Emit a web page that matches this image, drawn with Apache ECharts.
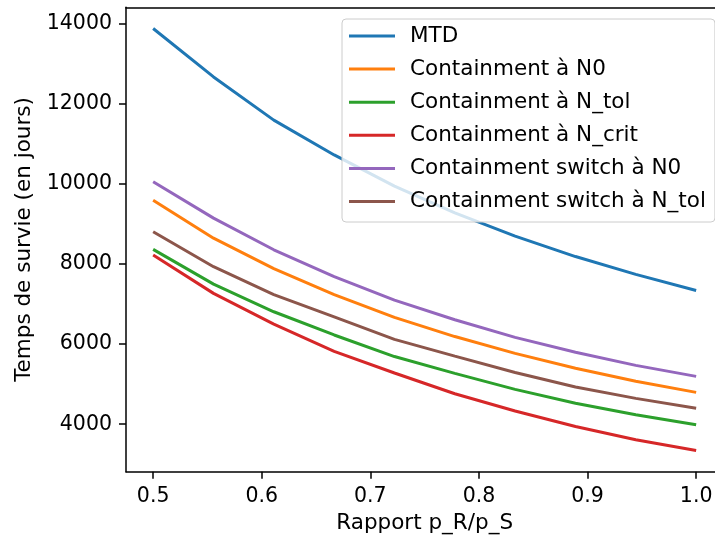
<!DOCTYPE html>
<html>
<head>
<meta charset="utf-8">
<script src="https://cdn.jsdelivr.net/npm/echarts@6/dist/echarts.min.js"></script>
<style>html,body{margin:0;padding:0;background:#fff;overflow:hidden;width:715px;height:540px;}#c{width:715px;height:540px;overflow:hidden;}</style>
</head>
<body>
<div id="c"></div>
<script>
const ratios = [0.5, 0.5556, 0.6111, 0.6667, 0.7222, 0.7778, 0.8333, 0.8889, 0.9444, 1.0];
const seriesNames = ['MTD', 'Containment à N0', 'Containment à N_tol', 'Containment à N_crit', 'Containment switch à N0', 'Containment switch à N_tol'];
const mtd = [13890, 12680, 11600, 10730, 9950, 9280, 8700, 8190, 7745, 7340];
const contN0 = [9600, 8650, 7890, 7240, 6670, 6190, 5770, 5400, 5075, 4795];
const contNtol = [8370, 7500, 6810, 6230, 5690, 5270, 4870, 4525, 4235, 3985];
const contNcrit = [8230, 7270, 6500, 5820, 5280, 4760, 4330, 3940, 3610, 3340];
const switchN0 = [10060, 9150, 8360, 7690, 7100, 6610, 6170, 5800, 5470, 5195];
const switchNtol = [8810, 7937, 7240, 6680, 6120, 5700, 5290, 4930, 4645, 4400];
const xTicks = [0.5, 0.6, 0.7, 0.8, 0.9, 1.0];
const yTicks = [4000, 6000, 8000, 10000, 12000, 14000];

const colors = ['#1f77b4', '#ff7f0e', '#2ca02c', '#d62728', '#9467bd', '#8c564b'];
const allValues = [mtd, contN0, contNtol, contNcrit, switchN0, switchNtol];
const font = 'DejaVu Sans';
const xMin = 0.475, xMax = 1.025;

const chart = echarts.init(document.getElementById('c'), null, {renderer: 'canvas'});
chart.setOption({
  animation: false,
  color: colors,
  grid: {left: 126, top: 7.3, right: -8.3, bottom: 68.3, show: false, containLabel: false, outerBoundsMode: 'none'},
  legend: {
    orient: 'vertical', left: 342, top: 19,
    padding: [6, 9, 9.5, 7],
    itemWidth: 46, itemHeight: 3, itemGap: 11.1,
    icon: 'rect',
    backgroundColor: 'rgba(255,255,255,0.8)',
    borderColor: '#cccccc', borderWidth: 1, borderRadius: 4,
    textStyle: {fontFamily: font, fontSize: 21.5, color: '#000', lineHeight: 21.5, padding: [0, 0, 0, 10]},
    data: seriesNames
  },
  xAxis: [{
    type: 'value', min: xMin, max: xMax,
    name: 'Rapport p_R/p_S', nameLocation: 'middle', nameGap: 41,
    nameTextStyle: {fontFamily: font, fontSize: 21.5, color: '#000'},
    axisLine: {show: true, lineStyle: {color: '#000', width: 1.5}},
    axisTick: {show: true, length: 7, inside: false, lineStyle: {color: '#000', width: 1.5}, customValues: xTicks},
    axisLabel: {fontFamily: font, fontSize: 20.5, color: '#000', margin: 14, customValues: xTicks, formatter: v => v.toFixed(1)},
    splitLine: {show: false}
  }, {
    type: 'value', min: xMin, max: xMax, position: 'top',
    axisLine: {show: true, onZero: false, lineStyle: {color: '#000', width: 1.5}},
    axisTick: {show: false}, axisLabel: {show: false}, splitLine: {show: false}
  }],
  yAxis: {
    type: 'value', min: 2812, max: 14421,
    name: 'Temps de survie (en jours)', nameLocation: 'middle', nameGap: 90, nameRotate: 90,
    nameTextStyle: {fontFamily: font, fontSize: 21.5, color: '#000'},
    axisLine: {show: true, lineStyle: {color: '#000', width: 1.5}},
    axisTick: {show: true, length: 7, inside: false, lineStyle: {color: '#000', width: 1.5}, customValues: yTicks},
    axisLabel: {fontFamily: font, fontSize: 20.5, color: '#000', margin: 14, customValues: yTicks, formatter: v => String(v)},
    splitLine: {show: false}
  },
  series: allValues.map((vals, i) => ({
    name: seriesNames[i],
    type: 'line',
    xAxisIndex: 0,
    showSymbol: false,
    symbol: 'none',
    lineStyle: {width: 3, color: colors[i]},
    data: ratios.map((x, j) => [x, vals[j]])
  }))
});
</script>
</body>
</html>
